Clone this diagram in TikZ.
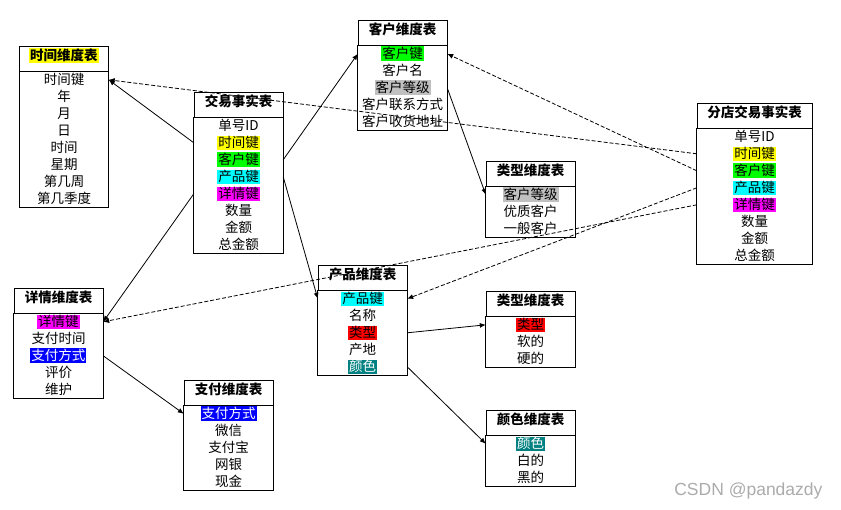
\documentclass[tikz,border=0pt]{standalone}
\usepackage{fontspec}
\setmainfont{Noto Sans CJK SC}
\newfontfamily\wmfont{Liberation Sans}
\usepackage{tikz}
\usetikzlibrary{arrows.meta,positioning,fit}
\definecolor{keyyellow}{HTML}{FFFF00}
\definecolor{keygreen}{HTML}{00FF00}
\definecolor{keycyan}{HTML}{00FFFF}
\definecolor{keypink}{HTML}{FF00FF}
\definecolor{keygray}{HTML}{C0C0C0}
\definecolor{keyblue}{HTML}{0000FF}
\definecolor{keyred}{HTML}{FF0000}
\definecolor{keyteal}{HTML}{008080}
\newcommand{\hlkey}[2]{{\setlength{\fboxsep}{1pt}\colorbox{#1}{#2}}}
\newcommand{\hlwhite}[2]{{\setlength{\fboxsep}{1pt}\colorbox{#1}{\color{white}#2}}}
\tikzset{
  head/.style={draw, line width=0.8pt, anchor=north, minimum width=89pt, inner sep=2pt, text height=12pt, text depth=8.5pt, font=\fontsize{13.5}{17}\selectfont\bfseries},
  row/.style={inner sep=0pt, minimum width=89pt, text height=13.6pt, text depth=3.4pt},
  frame/.style={draw, line width=0.8pt, inner sep=0pt},
  link/.style={-{Latex[length=6pt,width=5pt]}, line width=0.8pt},
  dlink/.style={-{Latex[length=6pt,width=5pt]}, line width=0.8pt, dash pattern=on 4pt off 2pt}
}

\begin{document}
\begin{tikzpicture}[x=1pt,y=-1pt,font=\fontsize{13.5}{17}\selectfont]
  \useasboundingbox (0,0) rectangle (841,509);

  \node[head] (time) at (64,46) {\hlkey{keyyellow}{时间维度表}};
  \foreach \txt [count=\i] in {时间键,年,月,日,时间,星期,第几周,第几季度}
    \node[row] (time-\i) at ([yshift={(0.5-\i)*17pt}]time.south) {\txt};
  \node[frame, fit=(time-1)(time-8)] {};

  \node[head] (fact) at (238.5,92) {交易事实表};
  \foreach \txt [count=\i] in {单号ID,{\hlkey{keyyellow}{时间键}},{\hlkey{keygreen}{客户键}},{\hlkey{keycyan}{产品键}},{\hlkey{keypink}{详情键}},数量,金额,总金额}
    \node[row] (fact-\i) at ([yshift={(0.5-\i)*17pt}]fact.south) {\txt};
  \node[frame, fit=(fact-1)(fact-8)] {};

  \node[head] (cust) at (402.5,20) {客户维度表};
  \foreach \txt [count=\i] in {{\hlkey{keygreen}{客户键}},客户名,{\hlkey{keygray}{客户等级}},客户联系方式,客户收货地址}
    \node[row] (cust-\i) at ([yshift={(0.5-\i)*17pt}]cust.south) {\txt};
  \node[frame, fit=(cust-1)(cust-5)] {};

  \node[head, minimum width=115pt] (branch) at (754.5,103) {分店交易事实表};
  \foreach \txt [count=\i] in {单号ID,{\hlkey{keyyellow}{时间键}},{\hlkey{keygreen}{客户键}},{\hlkey{keycyan}{产品键}},{\hlkey{keypink}{详情键}},数量,金额,总金额}
    \node[row, minimum width=115pt] (branch-\i) at ([yshift={(0.5-\i)*17pt}]branch.south) {\txt};
  \node[frame, fit=(branch-1)(branch-8)] {};

  \node[head] (ctype) at (530.5,161) {类型维度表};
  \foreach \txt [count=\i] in {{\hlkey{keygray}{客户等级}},优质客户,一般客户}
    \node[row] (ctype-\i) at ([yshift={(0.5-\i)*17pt}]ctype.south) {\txt};
  \node[frame, fit=(ctype-1)(ctype-3)] {};

  \node[head] (detail) at (58.5,288) {详情维度表};
  \foreach \txt [count=\i] in {{\hlkey{keypink}{详情键}},支付时间,{\hlwhite{keyblue}{支付方式}},评价,维护}
    \node[row] (detail-\i) at ([yshift={(0.5-\i)*17pt}]detail.south) {\txt};
  \node[frame, fit=(detail-1)(detail-5)] {};

  \node[head] (prod) at (362.5,265) {产品维度表};
  \foreach \txt [count=\i] in {{\hlkey{keycyan}{产品键}},名称,{\hlkey{keyred}{类型}},产地,{\hlwhite{keyteal}{颜色}}}
    \node[row] (prod-\i) at ([yshift={(0.5-\i)*17pt}]prod.south) {\txt};
  \node[frame, fit=(prod-1)(prod-5)] {};

  \node[head] (pay) at (228.5,380) {支付维度表};
  \foreach \txt [count=\i] in {{\hlwhite{keyblue}{支付方式}},微信,支付宝,网银,现金}
    \node[row] (pay-\i) at ([yshift={(0.5-\i)*17pt}]pay.south) {\txt};
  \node[frame, fit=(pay-1)(pay-5)] {};

  \node[head] (ptype) at (530.5,291) {类型维度表};
  \foreach \txt [count=\i] in {{\hlkey{keyred}{类型}},软的,硬的}
    \node[row] (ptype-\i) at ([yshift={(0.5-\i)*17pt}]ptype.south) {\txt};
  \node[frame, fit=(ptype-1)(ptype-3)] {};

  \node[head] (color) at (530.5,410) {颜色维度表};
  \foreach \txt [count=\i] in {{\hlwhite{keyteal}{颜色}},白的,黑的}
    \node[row] (color-\i) at ([yshift={(0.5-\i)*17pt}]color.south) {\txt};
  \node[frame, fit=(color-1)(color-3)] {};

  \draw[link] (fact-2.west) -- (time-1.east);
  \draw[link] (fact-3.east) -- (cust-1.west);
  \draw[link] (fact-4.east) -- (prod-1.west);
  \draw[link] (fact-5.west) -- (detail-1.east);
  \draw[link] (cust-3.east) -- (ctype-1.west);
  \draw[link] (detail-3.east) -- (pay-1.west);
  \draw[link] (prod-3.east) -- (ptype-1.west);
  \draw[link] (prod-5.east) -- (color-1.west);

  \draw[dlink] (branch-2.west) -- (time-1.east);
  \draw[dlink] (branch-3.west) -- (cust-1.east);
  \draw[dlink] (branch-4.west) -- (prod-1.east);
  \draw[dlink] (branch-5.west) -- (detail-1.east);

  \node[anchor=east, text=black!33, font=\wmfont\fontsize{17.5}{20}\selectfont] (mark) at (826,491) {CSDN @pandazdy};
\end{tikzpicture}
\end{document}
